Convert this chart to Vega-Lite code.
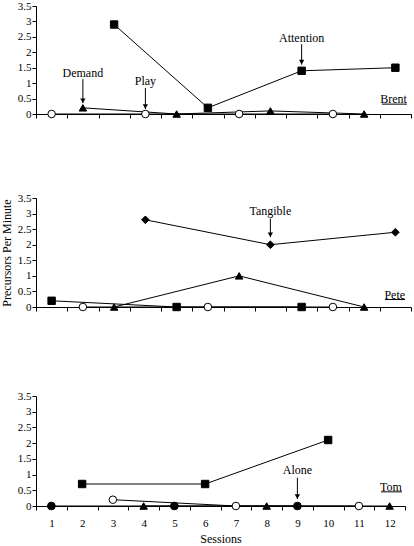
{
  "$schema": "https://vega.github.io/schema/vega-lite/v6.json",
  "background": "white",
  "padding": {"left": 0, "top": 0, "right": 0, "bottom": 0},
  "config": {
    "font": "Liberation Serif",
    "view": {"stroke": null},
    "axis": {"domainColor": "black", "tickColor": "black", "labelColor": "black", "titleColor": "black", "grid": false, "tickSize": 4, "labelFontSize": 11, "titleFontSize": 12, "titleFontWeight": "normal"},
    "text": {"font": "Liberation Serif", "fontSize": 12, "color": "black"}
  },
  "datasets": {
    "obs": [
      {"p": "Brent", "session": 1, "value": 0, "cond": "Play"},
      {"p": "Brent", "session": 2, "value": 0.2, "cond": "Demand"},
      {"p": "Brent", "session": 3, "value": 2.9, "cond": "Attention"},
      {"p": "Brent", "session": 4, "value": 0, "cond": "Play"},
      {"p": "Brent", "session": 5, "value": 0, "cond": "Demand"},
      {"p": "Brent", "session": 6, "value": 0.2, "cond": "Attention"},
      {"p": "Brent", "session": 7, "value": 0, "cond": "Play"},
      {"p": "Brent", "session": 8, "value": 0.1, "cond": "Demand"},
      {"p": "Brent", "session": 9, "value": 1.4, "cond": "Attention"},
      {"p": "Brent", "session": 10, "value": 0, "cond": "Play"},
      {"p": "Brent", "session": 11, "value": 0, "cond": "Demand"},
      {"p": "Brent", "session": 12, "value": 1.5, "cond": "Attention"},
      {"p": "Pete", "session": 1, "value": 0.2, "cond": "Attention"},
      {"p": "Pete", "session": 2, "value": 0, "cond": "Play"},
      {"p": "Pete", "session": 3, "value": 0, "cond": "Demand"},
      {"p": "Pete", "session": 4, "value": 2.8, "cond": "Tangible"},
      {"p": "Pete", "session": 5, "value": 0, "cond": "Attention"},
      {"p": "Pete", "session": 6, "value": 0, "cond": "Play"},
      {"p": "Pete", "session": 7, "value": 1.0, "cond": "Demand"},
      {"p": "Pete", "session": 8, "value": 2.0, "cond": "Tangible"},
      {"p": "Pete", "session": 9, "value": 0, "cond": "Attention"},
      {"p": "Pete", "session": 10, "value": 0, "cond": "Play"},
      {"p": "Pete", "session": 11, "value": 0, "cond": "Demand"},
      {"p": "Pete", "session": 12, "value": 2.4, "cond": "Tangible"},
      {"p": "Tom", "session": 1, "value": 0, "cond": "Alone"},
      {"p": "Tom", "session": 2, "value": 0.7, "cond": "Attention"},
      {"p": "Tom", "session": 3, "value": 0.2, "cond": "Play"},
      {"p": "Tom", "session": 4, "value": 0, "cond": "Demand"},
      {"p": "Tom", "session": 5, "value": 0, "cond": "Alone"},
      {"p": "Tom", "session": 6, "value": 0.7, "cond": "Attention"},
      {"p": "Tom", "session": 7, "value": 0, "cond": "Play"},
      {"p": "Tom", "session": 8, "value": 0, "cond": "Demand"},
      {"p": "Tom", "session": 9, "value": 0, "cond": "Alone"},
      {"p": "Tom", "session": 10, "value": 2.1, "cond": "Attention"},
      {"p": "Tom", "session": 11, "value": 0, "cond": "Play"},
      {"p": "Tom", "session": 12, "value": 0, "cond": "Demand"}
    ],
    "arrows": [
      {"p": "Brent", "label": "Demand", "session": 2, "ty": 1.32, "top": 1.13, "tip": 0.35},
      {"p": "Brent", "label": "Play", "session": 4, "ty": 1.06, "top": 0.84, "tip": 0.16},
      {"p": "Brent", "label": "Attention", "session": 9, "ty": 2.45, "top": 2.26, "tip": 1.6},
      {"p": "Pete", "label": "Tangible", "session": 8, "ty": 3.07, "top": 2.84, "tip": 2.24},
      {"p": "Tom", "label": "Alone", "session": 9, "ty": 1.15, "top": 0.9, "tip": 0.22}
    ],
    "names": [
      {"p": "Brent", "label": "Brent", "session": 12.37, "value": 0.5, "ux1": 11.57, "ux2": 12.37, "uy": 0.32},
      {"p": "Pete", "label": "Pete", "session": 12.31, "value": 0.4, "ux1": 11.67, "ux2": 12.31, "uy": 0.24},
      {"p": "Tom", "label": "Tom", "session": 12.4, "value": 0.6, "ux1": 11.72, "ux2": 12.4, "uy": 0.45}
    ]
  },
  "spacing": 72,
  "vconcat": [
    {
      "width": 375,
      "height": 108,
      "encoding": {
        "x": {"field": "session", "type": "quantitative", "title": null, "scale": {"domain": [0.5, 12.5], "nice": false, "zero": false},
          "axis": {"values": [0.5, 1.5, 2.5, 3.5, 4.5, 5.5, 6.5, 7.5, 8.5, 9.5, 10.5, 11.5, 12.5], "labels": false, "title": null}},
        "y": {"field": "value", "type": "quantitative", "title": null, "scale": {"domain": [0, 3.5], "nice": false},
          "axis": {"values": [0, 0.5, 1, 1.5, 2, 2.5, 3, 3.5], "format": "~g", "labelPadding": 1, "title": null}}
      },
      "layer": [
        {
          "data": {"name": "obs"},
          "transform": [{"filter": "datum.p === 'Brent'"}],
          "mark": {"type": "line", "color": "black", "strokeWidth": 1},
          "encoding": {"detail": {"field": "cond"}}
        },
        {
          "data": {"name": "obs"},
          "transform": [{"filter": "datum.p === 'Brent'"}],
          "mark": {"type": "point", "filled": true, "stroke": "black", "strokeWidth": 1, "opacity": 1},
          "encoding": {
            "shape": {"field": "cond", "type": "nominal", "legend": null, "scale": {"domain": ["Attention", "Demand", "Play", "Tangible", "Alone"], "range": ["square", "triangle-up", "circle", "diamond", "circle"]}},
            "fill": {"field": "cond", "type": "nominal", "legend": null, "scale": {"domain": ["Attention", "Demand", "Play", "Tangible", "Alone"], "range": ["black", "black", "white", "black", "black"]}},
            "size": {"field": "cond", "type": "nominal", "legend": null, "scale": {"domain": ["Attention", "Demand", "Play", "Tangible", "Alone"], "range": [55, 60, 32, 45, 45]}}
          }
        },
        {
          "data": {"name": "arrows"},
          "transform": [{"filter": "datum.p === 'Brent'"}],
          "mark": {"type": "rule", "color": "black", "strokeWidth": 1},
          "encoding": {
            "y": {"field": "top", "type": "quantitative"},
            "y2": {"field": "tip"}
          }
        },
        {
          "data": {"name": "arrows"},
          "transform": [{"filter": "datum.p === 'Brent'"}],
          "mark": {"type": "point", "shape": "triangle-down", "filled": true, "color": "black", "size": 28, "opacity": 1, "yOffset": -2.5},
          "encoding": {"y": {"field": "tip", "type": "quantitative"}}
        },
        {
          "data": {"name": "arrows"},
          "transform": [{"filter": "datum.p === 'Brent'"}],
          "mark": {"type": "text", "baseline": "middle", "align": "center"},
          "encoding": {"y": {"field": "ty", "type": "quantitative"}, "text": {"field": "label"}}
        },
        {
          "data": {"name": "names"},
          "transform": [{"filter": "datum.p === 'Brent'"}],
          "mark": {"type": "text", "baseline": "middle", "align": "right"},
          "encoding": {"text": {"field": "label"}}
        },
        {
          "data": {"name": "names"},
          "transform": [{"filter": "datum.p === 'Brent'"}],
          "mark": {"type": "rule", "color": "black", "strokeWidth": 1},
          "encoding": {
            "x": {"field": "ux1", "type": "quantitative"},
            "x2": {"field": "ux2"},
            "y": {"field": "uy", "type": "quantitative"}
          }
        }
      ]
    },
    {
      "width": 375,
      "height": 109,
      "encoding": {
        "x": {"field": "session", "type": "quantitative", "title": " ", "scale": {"domain": [0.5, 12.5], "nice": false, "zero": false},
          "axis": {"values": [0.5, 1.5, 2.5, 3.5, 4.5, 5.5, 6.5, 7.5, 8.5, 9.5, 10.5, 11.5, 12.5], "labels": false, "title": " ", "titleFontSize": 6, "titlePadding": 0}},
        "y": {"field": "value", "type": "quantitative", "title": "Precursors Per Minute", "scale": {"domain": [0, 3.5], "nice": false},
          "axis": {"values": [0, 0.5, 1, 1.5, 2, 2.5, 3, 3.5], "format": "~g", "labelPadding": 1, "title": "Precursors Per Minute", "titlePadding": 4}}
      },
      "layer": [
        {
          "data": {"name": "obs"},
          "transform": [{"filter": "datum.p === 'Pete'"}],
          "mark": {"type": "line", "color": "black", "strokeWidth": 1},
          "encoding": {"detail": {"field": "cond"}}
        },
        {
          "data": {"name": "obs"},
          "transform": [{"filter": "datum.p === 'Pete'"}],
          "mark": {"type": "point", "filled": true, "stroke": "black", "strokeWidth": 1, "opacity": 1},
          "encoding": {
            "shape": {"field": "cond", "type": "nominal", "legend": null, "scale": {"domain": ["Attention", "Demand", "Play", "Tangible", "Alone"], "range": ["square", "triangle-up", "circle", "diamond", "circle"]}},
            "fill": {"field": "cond", "type": "nominal", "legend": null, "scale": {"domain": ["Attention", "Demand", "Play", "Tangible", "Alone"], "range": ["black", "black", "white", "black", "black"]}},
            "size": {"field": "cond", "type": "nominal", "legend": null, "scale": {"domain": ["Attention", "Demand", "Play", "Tangible", "Alone"], "range": [55, 60, 32, 45, 45]}}
          }
        },
        {
          "data": {"name": "arrows"},
          "transform": [{"filter": "datum.p === 'Pete'"}],
          "mark": {"type": "rule", "color": "black", "strokeWidth": 1},
          "encoding": {
            "y": {"field": "top", "type": "quantitative"},
            "y2": {"field": "tip"}
          }
        },
        {
          "data": {"name": "arrows"},
          "transform": [{"filter": "datum.p === 'Pete'"}],
          "mark": {"type": "point", "shape": "triangle-down", "filled": true, "color": "black", "size": 28, "opacity": 1, "yOffset": -2.5},
          "encoding": {"y": {"field": "tip", "type": "quantitative"}}
        },
        {
          "data": {"name": "arrows"},
          "transform": [{"filter": "datum.p === 'Pete'"}],
          "mark": {"type": "text", "baseline": "middle", "align": "center"},
          "encoding": {"y": {"field": "ty", "type": "quantitative"}, "text": {"field": "label"}}
        },
        {
          "data": {"name": "names"},
          "transform": [{"filter": "datum.p === 'Pete'"}],
          "mark": {"type": "text", "baseline": "middle", "align": "right"},
          "encoding": {"text": {"field": "label"}}
        },
        {
          "data": {"name": "names"},
          "transform": [{"filter": "datum.p === 'Pete'"}],
          "mark": {"type": "rule", "color": "black", "strokeWidth": 1},
          "encoding": {
            "x": {"field": "ux1", "type": "quantitative"},
            "x2": {"field": "ux2"},
            "y": {"field": "uy", "type": "quantitative"}
          }
        }
      ]
    },
    {
      "width": 369,
      "height": 110,
      "encoding": {
        "x": {"field": "session", "type": "quantitative", "title": "Sessions", "scale": {"domain": [0.5, 12.5], "nice": false, "zero": false},
          "axis": {"values": [0.5, 1.5, 2.5, 3.5, 4.5, 5.5, 6.5, 7.5, 8.5, 9.5, 10.5, 11.5, 12.5], "labelExpr": "datum.value < 12 ? format(datum.value + 0.5, 'd') : ''", "labelOffset": 15.4, "labelPadding": 7, "labelFlush": false, "labelOverlap": false, "title": "Sessions", "titlePadding": 5}},
        "y": {"field": "value", "type": "quantitative", "title": null, "scale": {"domain": [0, 3.5], "nice": false},
          "axis": {"values": [0, 0.5, 1, 1.5, 2, 2.5, 3, 3.5], "format": "~g", "labelPadding": 1, "title": null}}
      },
      "layer": [
        {
          "data": {"name": "obs"},
          "transform": [{"filter": "datum.p === 'Tom'"}],
          "mark": {"type": "line", "color": "black", "strokeWidth": 1},
          "encoding": {"detail": {"field": "cond"}}
        },
        {
          "data": {"name": "obs"},
          "transform": [{"filter": "datum.p === 'Tom'"}],
          "mark": {"type": "point", "filled": true, "stroke": "black", "strokeWidth": 1, "opacity": 1},
          "encoding": {
            "shape": {"field": "cond", "type": "nominal", "legend": null, "scale": {"domain": ["Attention", "Demand", "Play", "Tangible", "Alone"], "range": ["square", "triangle-up", "circle", "diamond", "circle"]}},
            "fill": {"field": "cond", "type": "nominal", "legend": null, "scale": {"domain": ["Attention", "Demand", "Play", "Tangible", "Alone"], "range": ["black", "black", "white", "black", "black"]}},
            "size": {"field": "cond", "type": "nominal", "legend": null, "scale": {"domain": ["Attention", "Demand", "Play", "Tangible", "Alone"], "range": [55, 60, 32, 45, 45]}}
          }
        },
        {
          "data": {"name": "arrows"},
          "transform": [{"filter": "datum.p === 'Tom'"}],
          "mark": {"type": "rule", "color": "black", "strokeWidth": 1},
          "encoding": {
            "y": {"field": "top", "type": "quantitative"},
            "y2": {"field": "tip"}
          }
        },
        {
          "data": {"name": "arrows"},
          "transform": [{"filter": "datum.p === 'Tom'"}],
          "mark": {"type": "point", "shape": "triangle-down", "filled": true, "color": "black", "size": 28, "opacity": 1, "yOffset": -2.5},
          "encoding": {"y": {"field": "tip", "type": "quantitative"}}
        },
        {
          "data": {"name": "arrows"},
          "transform": [{"filter": "datum.p === 'Tom'"}],
          "mark": {"type": "text", "baseline": "middle", "align": "center"},
          "encoding": {"y": {"field": "ty", "type": "quantitative"}, "text": {"field": "label"}}
        },
        {
          "data": {"name": "names"},
          "transform": [{"filter": "datum.p === 'Tom'"}],
          "mark": {"type": "text", "baseline": "middle", "align": "right"},
          "encoding": {"text": {"field": "label"}}
        },
        {
          "data": {"name": "names"},
          "transform": [{"filter": "datum.p === 'Tom'"}],
          "mark": {"type": "rule", "color": "black", "strokeWidth": 1},
          "encoding": {
            "x": {"field": "ux1", "type": "quantitative"},
            "x2": {"field": "ux2"},
            "y": {"field": "uy", "type": "quantitative"}
          }
        }
      ]
    }
  ]
}
